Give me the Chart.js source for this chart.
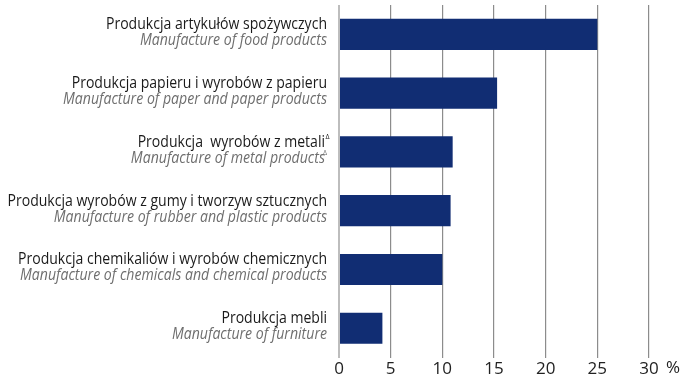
<!DOCTYPE html>
<html lang="pl">
<head>
<meta charset="UTF-8" />
<title>Produkcja sprzedana przemysłu - udział działów</title>
<style>
  * {
    box-sizing: border-box;
  }
  body {
    margin: 0;
    background: #fff;
  }
  #wrap {
    position: relative;
    width: 687px;
    height: 380px;
  }
</style>
</head>
<body>
<div id="wrap">
  <canvas id="sectorChart"></canvas>
</div>

<script src="https://cdn.jsdelivr.net/npm/chart.js"></script>
<script>
  // Dane wykresu
  const labelsPl = [
    'Produkcja artykułów spożywczych',
    'Produkcja papieru i wyrobów z papieru',
    'Produkcja  wyrobów z metali',
    'Produkcja wyrobów z gumy i tworzyw sztucznych',
    'Produkcja chemikaliów i wyrobów chemicznych',
    'Produkcja mebli'
  ];
  const labelsEn = [
    'Manufacture of food products',
    'Manufacture of paper and paper products',
    'Manufacture of metal products',
    'Manufacture of rubber and plastic products',
    'Manufacture of chemicals and chemical products',
    'Manufacture of furniture'
  ];
  const deltaMark = [false, false, true, false, false, false];
  const shares = [25.0, 15.3, 11.0, 10.8, 10.0, 4.2];
  const xTicks = [0, 5, 10, 15, 20, 25, 30];
  const unitLabel = '%';

  const FONT = '"Open Sans", Roboto, sans-serif';
  const LABEL_SIZE = 17;
  const LABEL_RIGHT = 327;

  // Etykiety kategorii w dwóch liniach: polska (czarna) i angielska (szara kursywa)
  const categoryLabels = {
    id: 'categoryLabels',
    afterDraw(chart) {
      const ctx = chart.ctx;
      const yScale = chart.scales.y;
      const plFont = LABEL_SIZE + 'px ' + FONT;
      const enFont = 'italic ' + LABEL_SIZE + 'px ' + FONT;
      ctx.save();
      // zwężenie tekstu, żeby najdłuższa etykieta zmieściła się po lewej
      ctx.font = plFont;
      const sx = Math.min(1, 309 / ctx.measureText(labelsPl[4]).width);
      ctx.font = enFont;
      const sxEn = Math.min(1, 307 / ctx.measureText(labelsEn[4]).width);
      labelsPl.forEach((pl, i) => {
        const y = yScale.getPixelForValue(i);
        const right = deltaMark[i] ? LABEL_RIGHT - 2 : LABEL_RIGHT;
        ctx.save();
        ctx.translate(right, y);
        ctx.textAlign = 'right';
        ctx.textBaseline = 'alphabetic';
        ctx.save();
        ctx.scale(sx, 1);
        ctx.font = plFont;
        ctx.fillStyle = '#1a1a1a';
        ctx.fillText(pl, 0, -5);
        ctx.restore();
        ctx.save();
        ctx.scale(sxEn, 1);
        ctx.font = enFont;
        ctx.fillStyle = '#6e6e6e';
        ctx.fillText(labelsEn[i], 0, 11);
        ctx.restore();
        if (deltaMark[i]) {
          ctx.textAlign = 'left';
          ctx.font = '7px ' + FONT;
          ctx.fillStyle = '#1a1a1a';
          ctx.fillText('\u0394', 0.5, -13);
          ctx.fillStyle = '#6e6e6e';
          ctx.fillText('\u0394', -2, 3);
        }
        ctx.restore();
      });
      // jednostka osi X
      const xScale = chart.scales.x;
      const last = xScale.getPixelForValue(xTicks[xTicks.length - 1]);
      ctx.font = '17px ' + FONT;
      ctx.fillStyle = '#222';
      ctx.textAlign = 'left';
      ctx.textBaseline = 'middle';
      ctx.fillText(unitLabel, last + 17, 368);
      ctx.restore();
    }
  };

  const ctx = document.getElementById('sectorChart').getContext('2d');
  new Chart(ctx, {
    type: 'bar',
    data: {
      labels: labelsPl,
      datasets: [{
        data: shares,
        backgroundColor: '#112d73',
        borderWidth: 0,
        barPercentage: 0.53,
        categoryPercentage: 1
      }]
    },
    options: {
      indexAxis: 'y',
      responsive: true,
      maintainAspectRatio: false,
      animation: false,
      layout: {
        padding: { left: 339, right: 38, top: 5, bottom: 0 }
      },
      scales: {
        x: {
          min: 0,
          max: 30,
          afterBuildTicks(scale) {
            scale.ticks = xTicks.map(v => ({ value: v }));
          },
          ticks: {
            color: '#222',
            font: { family: FONT, size: 17 },
            padding: 1,
            maxRotation: 0
          },
          grid: {
            drawTicks: false,
            color: c => c.index === 0 ? '#bdbdbd' : '#8c8c8c',
            lineWidth: c => c.index === 0 ? 2 : 1.2
          },
          border: { display: false }
        },
        y: {
          display: false
        }
      },
      plugins: {
        legend: { display: false },
        tooltip: { enabled: false }
      }
    },
    plugins: [categoryLabels]
  });
</script>
</body>
</html>
